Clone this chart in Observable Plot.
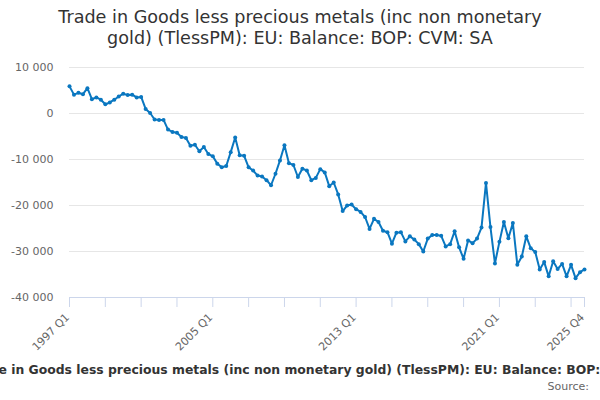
<!DOCTYPE html>
<html>
<head>
<meta charset="utf-8">
<script src="https://cdn.jsdelivr.net/npm/d3@7"></script>
<script src="https://cdn.jsdelivr.net/npm/@observablehq/plot@0.6"></script>
<style>
  html, body { margin: 0; padding: 0; background: #fff; width: 600px; height: 400px; overflow: hidden; font-family: "DejaVu Sans", sans-serif; }
  #title { height: 56px; box-sizing: border-box; padding-top: 7px; text-align: center; font-size: 17.6px; line-height: 21px; color: #333; }
  #chart { height: 300px; }
  #legend { position: relative; height: 24px; overflow: hidden; width: 600px; }
  #legend span { position: absolute; left: -32px; top: 6px; white-space: nowrap; font-size: 12.4px; font-weight: bold; color: #333; }
  #source { text-align: right; font-size: 11px; color: #666; padding-right: 11px; line-height: 14px; margin-top: 0px; }
</style>
</head>
<body>
<div id="title">Trade in Goods less precious metals (inc non monetary<br>gold) (TlessPM): EU: Balance: BOP: CVM: SA</div>
<div id="chart"></div>
<div id="legend"><span>Trade in Goods less precious metals (inc non monetary gold) (TlessPM): EU: Balance: BOP: CVM: SA</span></div>
<div id="source">Source:</div>
<script>
// Categories: quarters 1997 Q1 .. 2025 Q4
const years = d3.range(1997, 2026);
const quarterNames = ["Q1", "Q2", "Q3", "Q4"];
const categories = years.flatMap(y => quarterNames.map(q => `${y} ${q}`));

// Series values (£ million, CVM, SA)
const values = [
  5900, 4100, 4500, 4200, 5500, 3100, 3500, 3000,
  2000, 2400, 3000, 3700, 4300, 4000, 4100, 3500,
  3600, 1000, 100, -1300, -1400, -1400, -3500, -4000,
  -4200, -5100, -5300, -7000, -6800, -8200, -7300, -8800,
  -9300, -10900, -11700, -11400, -8400, -5200, -9100, -9200,
  -11700, -12400, -13500, -13700, -14500, -15600, -13100, -10200,
  -6900, -10800, -11200, -13800, -12000, -12400, -14500, -14000,
  -12100, -12800, -15800, -15000, -17600, -21200, -20000, -19800,
  -20800, -21400, -22500, -25100, -22900, -23600, -25500, -25800,
  -28300, -25900, -25800, -27800, -26700, -27400, -28400, -30000,
  -27200, -26400, -26400, -26600, -28900, -28400, -25600, -29100,
  -31600, -27600, -28200, -27200, -24800, -15100, -24700, -32600,
  -27900, -23600, -27100, -23800, -32900, -31100, -26700, -29300,
  -30100, -33900, -32300, -35400, -32100, -33800, -32700, -35400,
  -32900, -35800, -34500, -33900
];

// Tick labels
const xTickLabels = ["1997 Q1", "2005 Q1", "2013 Q1", "2021 Q1", "2025 Q4"];
const yTicks = [-40000, -30000, -20000, -10000, 0, 10000];

const data = categories.map((c, i) => ({i, c, v: values[i]}));
const labelIdx = xTickLabels.map(l => categories.indexOf(l));
const tickIdx = d3.range(0, categories.length, 8).concat([categories.length - 1]);

const fmt = d => d3.format(",")(d).replace(/,/g, " ").replace("\u2212", "-");
const lineColor = "#0a77c0";

const chart = Plot.plot({
  width: 600,
  height: 300,
  marginLeft: 69,
  marginRight: 16,
  marginTop: 11,
  marginBottom: 59,
  style: {fontFamily: "DejaVu Sans, sans-serif", fontSize: "11px", color: "#666", background: "#fff"},
  x: {type: "linear", domain: [0, categories.length - 1]},
  y: {domain: [-40000, 10000]},
  marks: [
    Plot.gridY(yTicks, {stroke: "#e6e6e6", strokeOpacity: 1, strokeWidth: 1}),
    Plot.axisY(yTicks, {tickSize: 0, tickPadding: 16, tickFormat: fmt, fill: "#666", label: null, fontSize: 11}),
    Plot.ruleY([-40000], {stroke: "#ccd6eb", strokeWidth: 1}),
    Plot.axisX(tickIdx, {tickSize: 10, stroke: "#ccd6eb", tickFormat: () => "", label: null}),
    Plot.axisX(labelIdx, {tickSize: 0, tickPadding: 18, dx: -2, tickRotate: -45, tickFormat: i => categories[i], fill: "#666", label: null, fontSize: 11}),
    Plot.line(data, {x: "i", y: "v", stroke: lineColor, strokeWidth: 2}),
    Plot.dot(data, {x: "i", y: "v", fill: lineColor, r: 2})
  ]
});
document.getElementById("chart").appendChild(chart);
</script>
</body>
</html>
